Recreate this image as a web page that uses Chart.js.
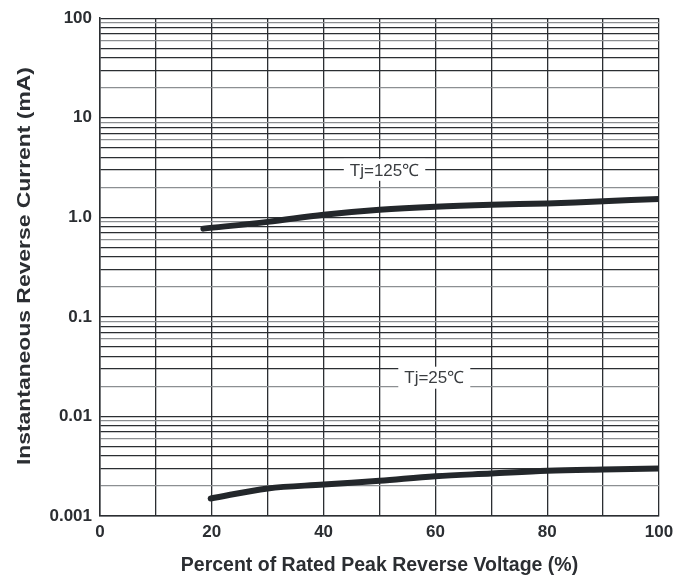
<!DOCTYPE html>
<html>
<head>
<meta charset="utf-8">
<script src="https://cdn.jsdelivr.net/npm/chart.js@4"></script>
<style>
    html, body { margin: 0; padding: 0; background: #ffffff; }
    #wrap { width: 685px; height: 578px; }
</style>
</head>
<body>
<div id="wrap"><canvas id="leakageChart" width="685" height="578"></canvas></div>
<script>
// =========================================================
// DATOS
// =========================================================

const voltage125 = [18.5, 30, 40, 50, 60, 70, 80, 90, 100];
const current125 = [0.77, 0.9, 1.06, 1.19, 1.28, 1.34, 1.38, 1.45, 1.53];

const voltage25 = [19.8, 30, 40, 50, 60, 70, 80, 90, 100];
const current25 = [0.0015, 0.00189, 0.00207, 0.00226, 0.00251, 0.00267, 0.00284, 0.00293, 0.0030];

const xTickLabels = [0, 20, 40, 60, 80, 100];
const yDecades = [0.001, 0.01, 0.1, 1, 10, 100];
const yDecadeLabels = ['0.001', '0.01', '0.1', '1.0', '10', '100'];

const yTitle = 'Instantaneous Reverse Current (mA)';
const xTitle = 'Percent of Rated Peak Reverse Voltage (%)';

const curveLabels = [
    { text: 'Tj=125\u2103', x: 50.9, y: 3.0 },
    { text: 'Tj=25\u2103', x: 59.8, y: 0.0245 }
];

// =========================================================
// Estilos
// =========================================================

const DARK = '#2b2e32';
const GRAY = '#8c8f92';
const FONT = "'Liberation Sans', Arial, sans-serif";

function toPoints(xs, ys) {
    return xs.map((x, i) => ({ x: x, y: ys[i] }));
}

function isDecade(v) {
    return yDecades.some(d => Math.abs(v / d - 1) < 1e-6);
}

// lineas menores grises en 2, 6 y 9 de cada decada
function minorColor(v) {
    const m = Math.round(v / Math.pow(10, Math.floor(Math.log10(v) + 1e-9)));
    return (m === 2 || m === 6 || m === 9) ? GRAY : DARK;
}

// etiquetas "Tj=..." con fondo blanco + titulo del eje Y (texto estirado como en el original)
const textPlugin = {
    id: 'curveLabels',
    afterDatasetsDraw(chart) {
        const ctx = chart.ctx;
        const xs = chart.scales.x;
        const ys = chart.scales.y;
        ctx.save();
        ctx.font = '17px ' + FONT;
        ctx.textAlign = 'center';
        ctx.textBaseline = 'middle';
        curveLabels.forEach(l => {
            const px = xs.getPixelForValue(l.x);
            const py = ys.getPixelForValue(l.y);
            const w = ctx.measureText(l.text).width + 12;
            ctx.fillStyle = '#ffffff';
            ctx.fillRect(px - w / 2, py - 11, w, 22);
            ctx.fillStyle = '#3a3d40';
            ctx.fillText(l.text, px, py + 1);
        });

        // titulo eje Y
        ctx.font = 'bold 19px ' + FONT;
        const tw = ctx.measureText(yTitle).width;
        const target = 398;
        ctx.translate(25, (chart.chartArea.top + chart.chartArea.bottom) / 2 - 1);
        ctx.rotate(-Math.PI / 2);
        ctx.scale(target / tw, 1);
        ctx.fillStyle = '#2b2e32';
        ctx.fillText(yTitle, 0, 0);
        ctx.restore();
    }
};

// =========================================================
// Grafico
// =========================================================

function createLeakageChart() {
    const ctx = document.getElementById('leakageChart').getContext('2d');

    const lineStyle = {
        borderColor: '#23272b',
        borderWidth: 6,
        borderCapStyle: 'round',
        borderJoinStyle: 'round',
        pointRadius: 0,
        tension: 0.35,
        fill: false
    };

    new Chart(ctx, {
        type: 'line',
        data: {
            datasets: [
                Object.assign({ label: 'Tj=125', data: toPoints(voltage125, current125) }, lineStyle),
                Object.assign({ label: 'Tj=25', data: toPoints(voltage25, current25) }, lineStyle)
            ]
        },
        options: {
            responsive: false,
            animation: false,
            layout: { padding: { top: 16, right: 26, left: 0, bottom: 0 } },
            plugins: {
                legend: { display: false },
                tooltip: { enabled: false }
            },
            scales: {
                x: {
                    type: 'linear',
                    min: 0,
                    max: 100,
                    afterFit: (scale) => { scale.height = 62; },
                    ticks: {
                        stepSize: 10,
                        autoSkip: false,
                        maxRotation: 0,
                        padding: 6,
                        color: '#2b2e32',
                        font: { family: FONT, size: 17, weight: 'bold' },
                        callback: (v) => xTickLabels.includes(v) ? String(v) : ''
                    },
                    grid: { color: DARK, lineWidth: 1.3, drawTicks: false },
                    border: { color: DARK, width: 1.5 },
                    title: {
                        display: true,
                        text: xTitle,
                        color: '#2b2e32',
                        font: { family: FONT, size: 19.5, weight: 'bold' },
                        padding: { top: 0, bottom: 1 }
                    }
                },
                y: {
                    type: 'logarithmic',
                    min: 0.001,
                    max: 100,
                    afterFit: (scale) => { scale.width = 100; },
                    afterBuildTicks: (scale) => {
                        const ticks = [];
                        yDecades.forEach((d, i) => {
                            ticks.push({ value: d });
                            if (i < yDecades.length - 1) {
                                for (let m = 2; m <= 9; m++) ticks.push({ value: m * d });
                            }
                        });
                        scale.ticks = ticks;
                    },
                    ticks: {
                        autoSkip: false,
                        padding: 8,
                        color: '#2b2e32',
                        font: { family: FONT, size: 17, weight: 'bold' },
                        callback: (v) => {
                            const i = yDecades.findIndex(d => Math.abs(v / d - 1) < 1e-6);
                            return i >= 0 ? yDecadeLabels[i] : '';
                        }
                    },
                    grid: {
                        drawTicks: false,
                        lineWidth: 1.3,
                        color: (c) => (c.tick && !isDecade(c.tick.value)) ? minorColor(c.tick.value) : DARK
                    },
                    border: { color: DARK, width: 1.5 },
                    title: { display: false }
                }
            }
        },
        plugins: [textPlugin]
    });
}

// =========================================================
// Inicializacion
// =========================================================

createLeakageChart();
</script>
</body>
</html>
